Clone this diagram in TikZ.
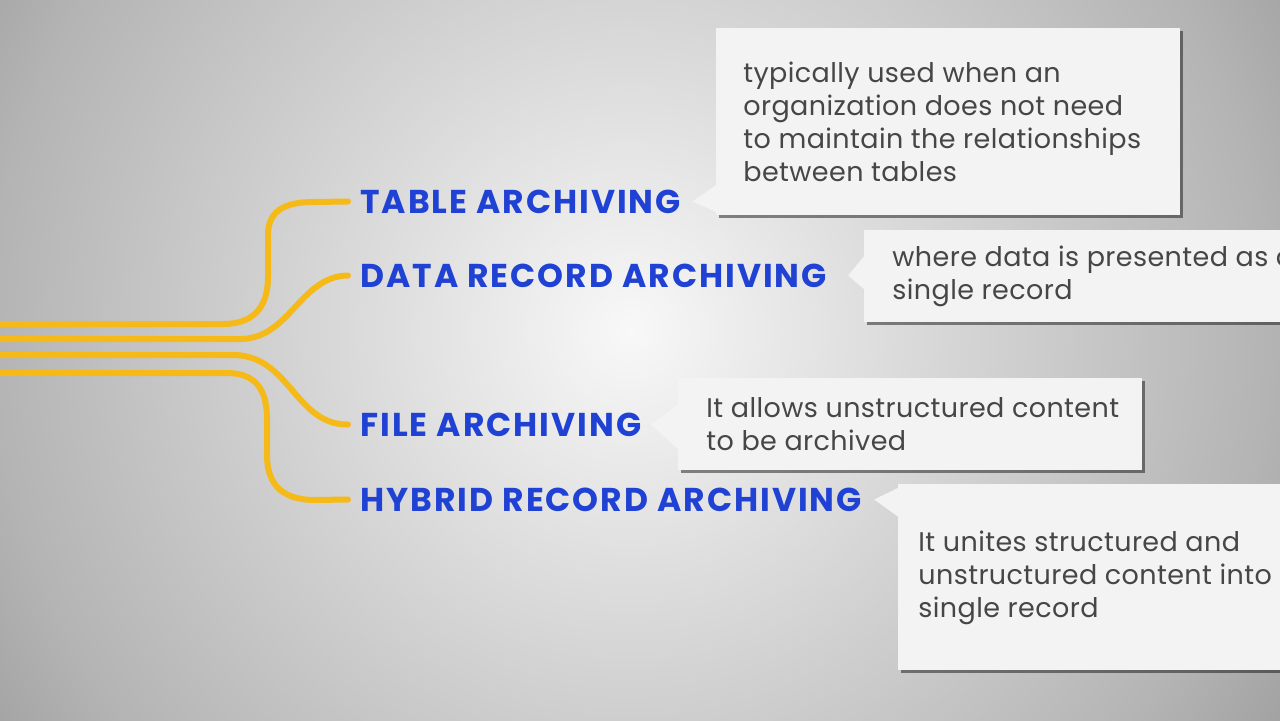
\documentclass[tikz,border=0pt]{standalone}
\usepackage{fontspec}
\setmainfont{Poppins}
\usepackage{tikz}
\usetikzlibrary{shadows,calc,positioning}
\definecolor{bgcore}{RGB}{248,248,248}
\definecolor{bgmid}{RGB}{238,238,238}
\definecolor{bgring}{RGB}{212,212,212}
\definecolor{bgedge}{RGB}{180,180,180}
\definecolor{bgcorner}{RGB}{162,162,162}
\definecolor{labelblue}{RGB}{32,66,212}
\definecolor{feedgold}{RGB}{246,186,24}
\definecolor{notefill}{RGB}{243,243,243}
\definecolor{notegray}{RGB}{70,70,70}
\pgfdeclareradialshading{bgglow}{\pgfpoint{0bp}{0bp}}{%
  color(0bp)=(bgcore); color(3bp)=(bgmid); color(11bp)=(bgring);
  color(21bp)=(bgedge); color(25bp)=(bgcorner); color(50bp)=(bgcorner)}

\begin{document}
\begin{tikzpicture}[
    x=0.5pt, y=-0.5pt,
    lbl/.style   = {anchor=base west, inner xsep=6pt, inner ysep=0pt,
                    text height=11.5pt, text depth=0pt, text=labelblue,
                    font=\fontsize{16.5}{19}\selectfont\bfseries\addfontfeature{LetterSpace=6}},
    note/.style  = {rectangle, fill=notefill, anchor=north west, inner sep=0pt,
                    drop shadow={shadow xshift=1.5pt, shadow yshift=-1.5pt,
                                 fill=black, opacity=0.45}},
    notetxt/.style = {anchor=west, align=left, inner sep=0pt, text=notegray,
                    font=\fontsize{13.5}{16.5}\selectfont\addfontfeature{LetterSpace=1.5}},
    tip/.style   = {fill=notefill},
    feed/.style  = {draw=feedgold, line width=3pt, line cap=round}
  ]
    \useasboundingbox (0,0) rectangle (1280,720);
    \clip (0,0) rectangle (1280,720);
    \shade[shading=bgglow] (630,330) circle (760);

    % archiving kinds
    \node[lbl] (tabl) at (348,213) {TABLE ARCHIVING};
    \node[lbl] (datr) at (348,287) {DATA RECORD ARCHIVING};
    \node[lbl] (file) at (348,436) {FILE ARCHIVING};
    \node[lbl] (hybr) at (348,511) {HYBRID RECORD ARCHIVING};

    % explanation boxes
    \node[note, minimum width=232pt, minimum height=93.5pt] (ntabl) at (716,28) {};
    \node[note, minimum width=230pt, minimum height=46pt]   (ndatr) at (864,230) {};
    \node[note, minimum width=232pt, minimum height=46pt]   (nfile) at (678,378) {};
    \node[note, minimum width=210pt, minimum height=93pt]   (nhybr) at (898,484) {};

    \fill[tip] ($(ntabl.south west)+(2,-32)$) -- ([xshift=-0.5pt]tabl.east) -- ($(ntabl.south west)+(2,-3)$) -- cycle;
    \fill[tip] ($(ndatr.south west)+(2,-69)$) -- ([xshift=4.5pt]datr.east) -- ($(ndatr.south west)+(2,-32)$) -- cycle;
    \fill[tip] ($(nfile.south west)+(2,-68)$) -- ([xshift=-1.5pt]file.east) -- ($(nfile.south west)+(2,-20)$) -- cycle;
    \fill[tip] ($(nhybr.north west)+(2,3)$)   -- (hybr.east) -- ($(nhybr.north west)+(2,34)$) -- cycle;

    \node[notetxt, right=13.5pt of ntabl.west] (ttabl)
      {typically used when an\\organization does not need\\to maintain the relationships\\between tables};
    \node[notetxt, right=14pt of ndatr.west] (tdatr)
      {where data is presented as a\\single record};
    \node[notetxt, right=14pt of nfile.west] (tfile)
      {It allows unstructured content\\to be archived};
    \node[notetxt, right=10pt of nhybr.west] (thybr)
      {It unites structured and\\unstructured content into\\single record};

    % feeder lines
    \coordinate (s1) at (0,324);
    \coordinate (s2) at (0,339);
    \coordinate (s3) at (0,355);
    \coordinate (s4) at (0,373);
    \draw[feed] (s1) -- (223,324) .. controls (258,324) and (268,302) .. (268,277)
      -- (268,235) .. controls (268,212) and (283,202) .. (313,202) -- (tabl.west);
    \draw[feed] (s2) -- (240,339) .. controls (290,339) and (300,276) .. (datr.west);
    \draw[feed] (s3) -- (233,355) .. controls (290,355) and (295,425) .. (file.west);
    \draw[feed] (s4) -- (227,373) .. controls (260,373) and (267,395) .. (267,420)
      -- (267,455) .. controls (267,487) and (285,500) .. (315,500) -- (hybr.west);
  \end{tikzpicture}
\end{document}
